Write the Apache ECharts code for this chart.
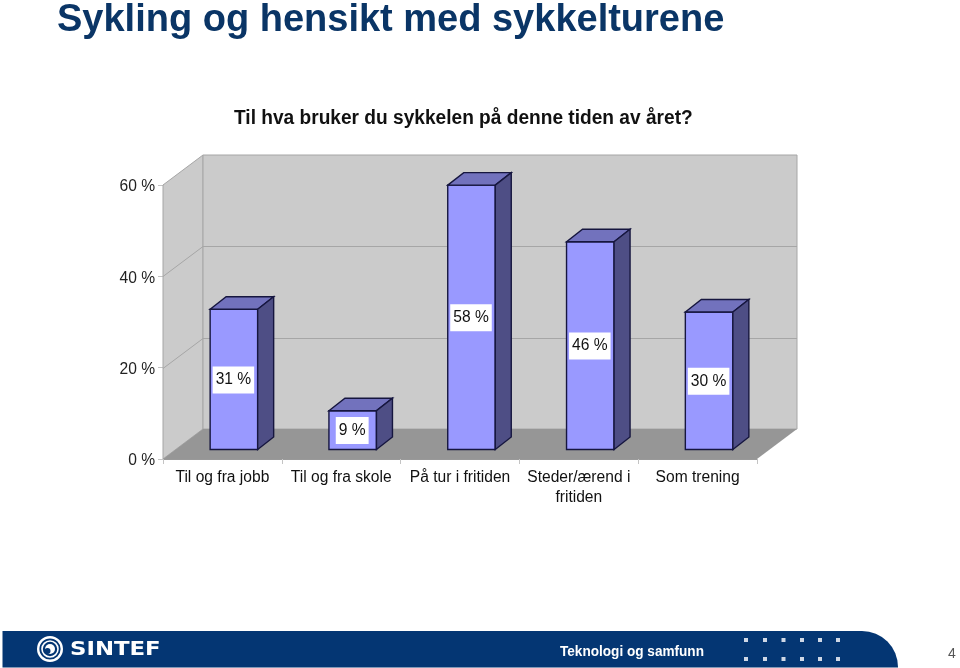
<!DOCTYPE html>
<html><head><meta charset="utf-8">
<style>html,body{margin:0;padding:0;background:#fff}#c{width:960px;height:668px}</style>
<script src="https://cdn.jsdelivr.net/npm/echarts@6/dist/echarts.min.js"></script>
</head><body><div id="c"></div>
<script>
const categories = ['Til og fra jobb','Til og fra skole','På tur i fritiden','Steder/ærend i\nfritiden','Som trening'];
const values = [30.7,8.5,57.9,45.5,30.1];
const dataLabels = ['31 %','9 %','58 %','46 %','30 %'];
const yTicks = [0,20,40,60];
const titleText = 'Sykling og hensikt med sykkelturene';
const subtitleText = 'Til hva bruker du sykkelen på denne tiden av året?';
const footerText = 'Teknologi og samfunn';
const pageNumber = '4';
const logoText = 'SINTEF';
const dotColumns = [746,765,783.5,802,820,838];
const dotRows = [640,659];

const FONT = '"Liberation Sans", Arial, sans-serif';
const DX = 40, DY = -30;           // chart depth
const BDX = 16, BDY = -12.5;       // bar depth
const BOFF_X = 11.5, BOFF_Y = -9.5; // bar offset from the front plane
const WALL = '#cbcbcb', FLOOR = '#969696', WLINE = '#a6a6a6';

const chart = echarts.init(document.getElementById('c'), null, {renderer:'canvas'});

function poly(points, fill, stroke, lw){
  return {type:'polygon', shape:{points}, style:{fill, stroke:stroke||null, lineWidth:lw||0}};
}
function wallItem(params, api){
  const band = api.size([1,0])[0];
  const L = api.coord([0,yTicks[0]])[0]-band/2;
  const R = api.coord([categories.length-1,yTicks[0]])[0]+band/2;
  const y0 = api.coord([0,yTicks[0]])[1];
  const yT = api.coord([0,yTicks[yTicks.length-1]])[1];
  const ch = [
    poly([[L,y0],[L+DX,y0+DY],[L+DX,yT+DY],[L,yT]],WALL,WLINE,1),
    poly([[L+DX,y0+DY],[R+DX,y0+DY],[R+DX,yT+DY],[L+DX,yT+DY]],WALL,WLINE,1)
  ];
  yTicks.slice(1,-1).forEach(t=>{
    const y = Math.round(api.coord([0,t])[1])+0.5;
    ch.push({type:'polyline',shape:{points:[[L,y],[L+DX,y+DY],[R+DX,y+DY]]},style:{fill:null,stroke:WLINE,lineWidth:1}});
  });
  ch.push(poly([[L,y0],[R,y0],[R+DX,y0+DY],[L+DX,y0+DY]],FLOOR));
  return {type:'group',children:ch};
}
function barItem(params, api){
  const i = api.value(0), v = api.value(1);
  const band = api.size([1,0])[0], w = band*0.4;
  const c = api.coord([i,v]), b = api.coord([i,0]);
  const x0 = c[0]-w/2+BOFF_X, x1 = x0+w, yt = c[1]+BOFF_Y, yb = b[1]+BOFF_Y;
  const line = '#16163f';
  return {type:'group',children:[
    poly([[x0,yb],[x1,yb],[x1,yt],[x0,yt]],'#9999ff',line,1.4),
    poly([[x0,yt],[x1,yt],[x1+BDX,yt+BDY],[x0+BDX,yt+BDY]],'#7272bd',line,1.4),
    poly([[x1,yb],[x1+BDX,yb+BDY],[x1+BDX,yt+BDY],[x1,yt]],'#4e4e85',line,1.4),
    {type:'text',x:(x0+x1)/2-0.5,y:(yt+yb)/2+0.5,style:{text:dataLabels[i],font:'15.6px '+FONT,fill:'#111',align:'center',verticalAlign:'middle',
      backgroundColor:'#fff',padding:[6,3,5,3]}}
  ]};
}

const dots = [];
dotRows.forEach(y=>dotColumns.forEach(x=>dots.push({type:'rect',shape:{x:x-2,y:y-2,width:4,height:4},style:{fill:'#cfd8e6'},z:3})));

chart.setOption({
  animation:false,
  backgroundColor:'#fff',
  grid:{left:163,right:203,top:185,bottom:209,containLabel:false},
  xAxis:{type:'category',data:categories,
    axisLine:{lineStyle:{color:'#999',width:1}},
    axisTick:{show:true,alignWithLabel:false,length:5,lineStyle:{color:'#c4c4c4'}},
    axisLabel:{color:'#111',fontFamily:FONT,fontSize:15.6,lineHeight:20,margin:9,interval:0},
    splitLine:{show:false}},
  yAxis:{type:'value',min:0,max:60,interval:20,
    axisLine:{show:true,lineStyle:{color:'#a6a6a6',width:1}},
    axisTick:{show:true,length:5,lineStyle:{color:'#c4c4c4'}},
    axisLabel:{color:'#222',fontFamily:FONT,fontSize:15.6,margin:8,verticalAlign:'top',lineHeight:4,formatter:'{value} %'},
    splitLine:{show:false}},
  series:[
    {type:'custom',silent:true,z:1,renderItem:wallItem,data:[[0,0]],encode:{x:0,y:1},clip:false},
    {type:'custom',silent:true,z:2,renderItem:barItem,data:values.map((v,i)=>[i,v]),encode:{x:0,y:1},clip:false}
  ],
  graphic:{elements:[
    {type:'text',x:57,y:1.5,style:{text:titleText,font:'bold 38px '+FONT,fill:'#0a3566'}},
    {type:'text',x:234,y:108,scaleX:0.956,style:{text:subtitleText,font:'bold 20px '+FONT,fill:'#111'}},
    {type:'rect',shape:{x:2.5,y:631,width:895.5,height:36.5,r:[0,36,0,0]},style:{fill:'#043673'},z:2},
    {type:'circle',shape:{cx:50,cy:649,r:11.8},style:{fill:null,stroke:'#fff',lineWidth:2.4},z:3},
    {type:'circle',shape:{cx:50,cy:649,r:8},style:{fill:null,stroke:'#fff',lineWidth:1.6},z:3},
    {type:'circle',shape:{cx:50,cy:649,r:5},style:{fill:'#fff'},z:3},
    {type:'circle',shape:{cx:47.5,cy:651,r:3},style:{fill:'#043673'},z:4},
    {type:'text',x:70,y:641,scaleX:1.2,style:{text:logoText,font:'bold 19px "DejaVu Sans", sans-serif',fill:'#fff'},z:3},
    {type:'text',x:560,y:644,scaleX:0.906,style:{text:footerText,font:'bold 15px '+FONT,fill:'#fff'},z:3},
    ...dots,
    {type:'text',x:948,y:647,style:{text:pageNumber,font:'14px '+FONT,fill:'#555'},z:3}
  ]}
});
</script></body></html>
